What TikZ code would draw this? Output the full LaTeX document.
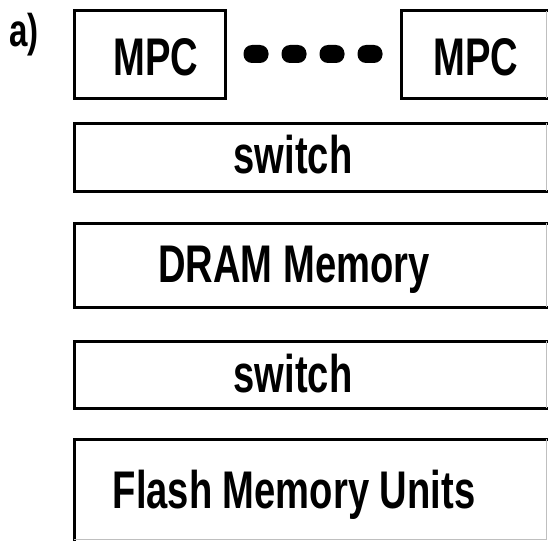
\documentclass[tikz,border=0pt]{standalone}
\usepackage{fontspec}
\setmainfont[FakeStretch=0.72]{Liberation Sans}
\begin{document}
\begin{tikzpicture}[x=1pt,y=-1pt,
  block/.style={draw=none,inner sep=0pt,outer sep=0pt},
  edge/.style={line width=3pt,line cap=rect,line join=miter},
  faint/.style={line width=1pt,draw=black!25},
  lbl/.style={inner sep=0pt,anchor=base,font=\fontsize{53}{60}\selectfont\bfseries},
  dotmark/.style={fill=black,draw=none,minimum width=25pt,minimum height=18pt,
    inner sep=0pt,rounded corners=8.5pt}]
  \useasboundingbox (0,0) rectangle (549,543);

  % blocks of the stack
  \node[block,minimum width=151pt,minimum height=87pt] (mpcA) at (149.5,54.5) {};
  \node[block,minimum width=145pt,minimum height=87pt] (mpcB) at (473.5,54.5) {};
  \node[block,minimum width=472pt,minimum height=68pt] (swA) at (310,157) {};
  \node[block,minimum width=472pt,minimum height=84pt] (dram) at (310,265) {};
  \node[block,minimum width=472pt,minimum height=67pt] (swB) at (310,374.5) {};
  \node[block,minimum width=472pt,minimum height=100pt] (flash) at (310,489) {};

  % first processor block: full heavy outline
  \draw[edge] (mpcA.north west) rectangle (mpcA.south east);
  % remaining blocks: heavy left/top/bottom, light right edge
  \foreach \b in {mpcB,swA,dram,swB} {
    \draw[edge] (\b.north east) -- (\b.north west) -- (\b.south west) -- (\b.south east);
    \draw[faint] (\b.north east) -- (\b.south east);
  }
  \draw[edge] (flash.south west) -- (flash.north west) -- (flash.north east);
  \draw[faint] (flash.north east) -- (flash.south east) -- (flash.south west);

  % labels
  \node[lbl,font=\fontsize{46}{52}\selectfont\bfseries] (tag) at (24,47) {a)};
  \node[lbl] (tA) at (156,75) {MPC};
  \node[lbl] (tB) at (476,75) {MPC};
  \node[lbl] (tswA) at (293,173) {switch};
  \node[lbl] (tdram) at (294,282) {DRAM Memory};
  \node[lbl] (tswB) at (293,392) {switch};
  \node[lbl] (tflash) at (294,508) {Flash Memory Units};

  % ellipsis between the processor blocks
  \node[dotmark] (d1) at (256,54) {};
  \node[dotmark] (d2) at (294,54) {};
  \node[dotmark] (d3) at (332,54) {};
  \node[dotmark] (d4) at (370,54) {};
\end{tikzpicture}
\end{document}
